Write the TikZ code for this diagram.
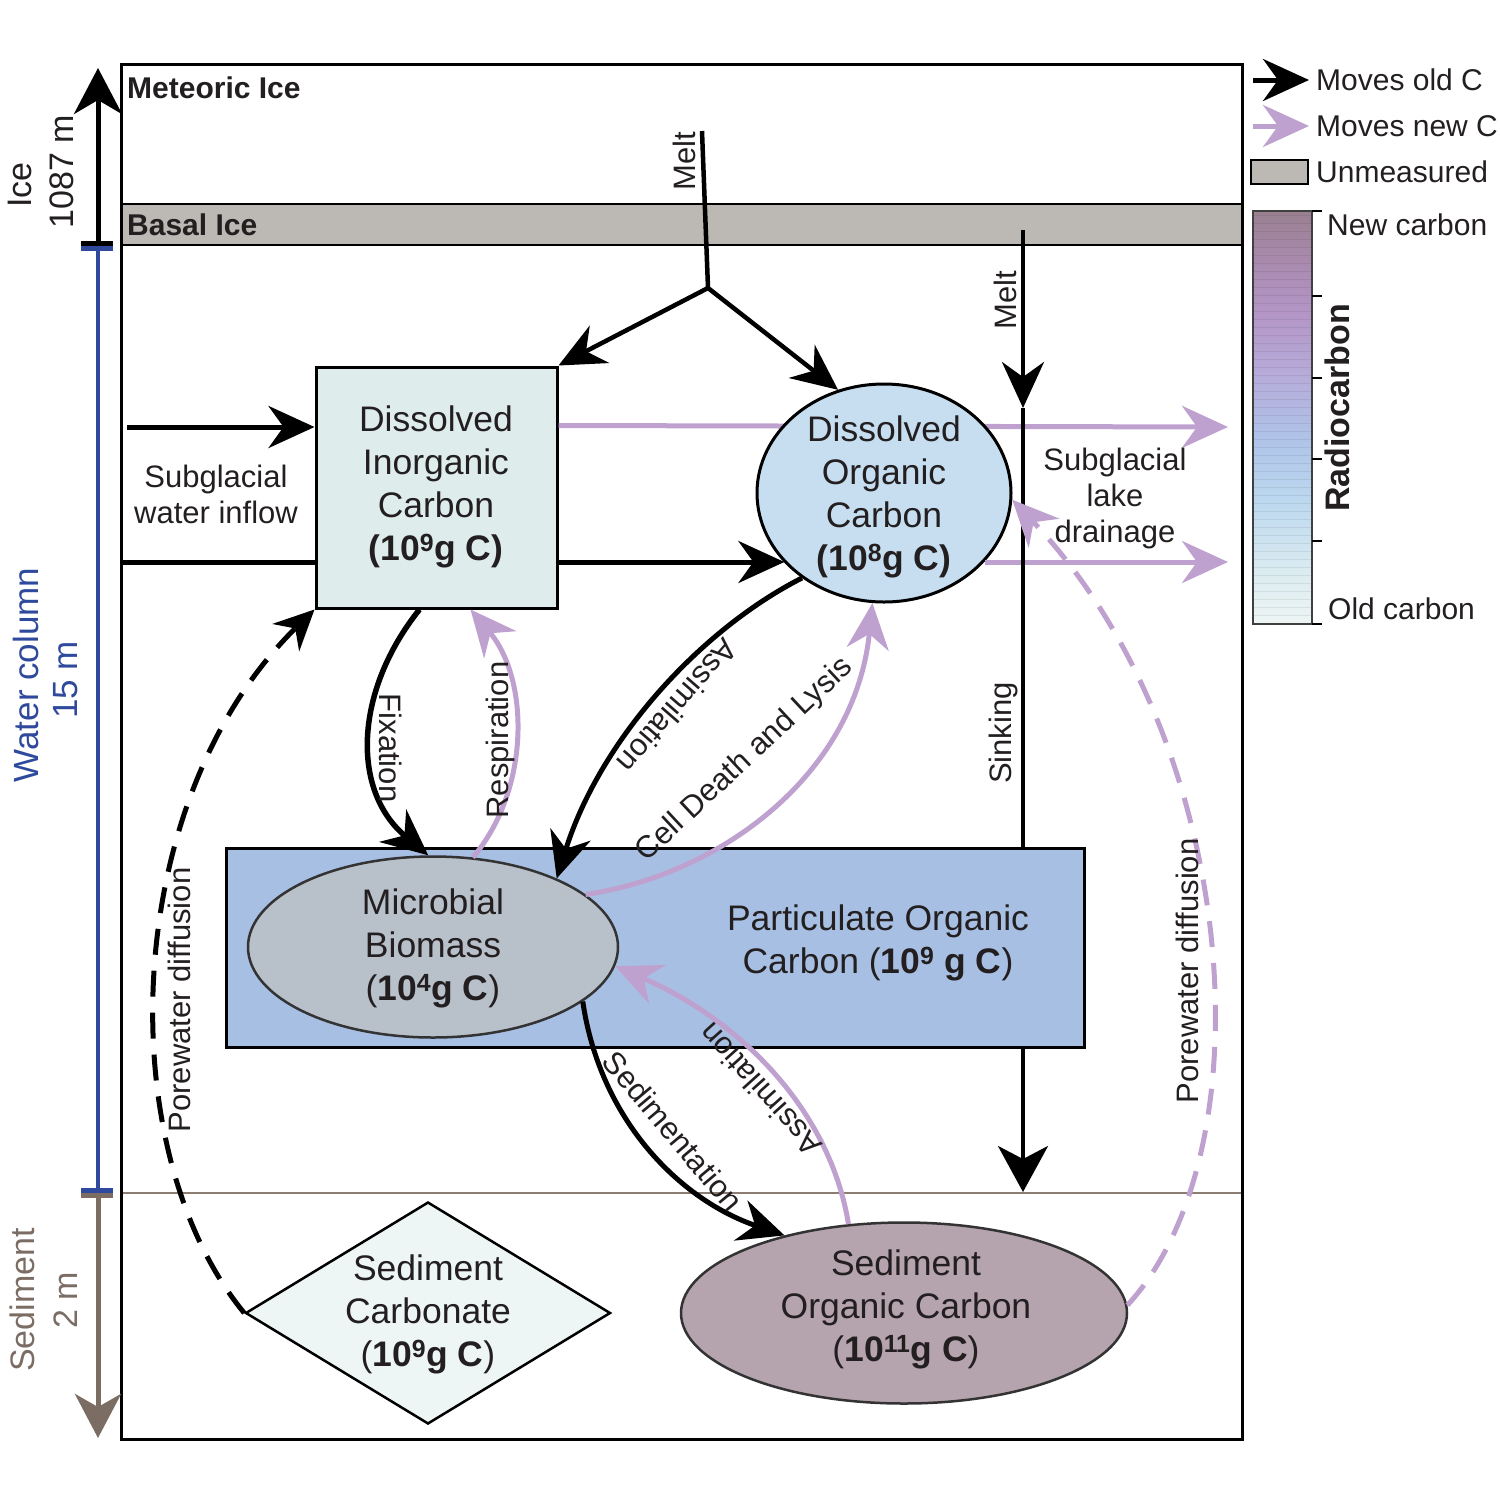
\documentclass[tikz,border=0pt]{standalone}
\usepackage{fontspec}
\setmainfont{Liberation Sans}
\usetikzlibrary{arrows.meta,shapes.geometric,calc}
\definecolor{txt}{HTML}{231F20}
\definecolor{newc}{HTML}{BFA1CF}
\definecolor{basal}{HTML}{BCB8B4}
\definecolor{dicf}{HTML}{DEECEC}
\definecolor{docf}{HTML}{C6DEF0}
\definecolor{pocf}{HTML}{A7BFE3}
\definecolor{mbf}{HTML}{B8C0CA}
\definecolor{scf}{HTML}{EEF6F5}
\definecolor{socf}{HTML}{B5A3AD}
\definecolor{scalebl}{HTML}{2F4A9C}
\definecolor{scalebr}{HTML}{7C6D64}
\definecolor{sedl}{HTML}{8C7D73}
\definecolor{rc0}{HTML}{EEF5F4}
\definecolor{rc1}{HTML}{DCECF1}
\definecolor{rc2}{HTML}{BCD8EF}
\definecolor{rc3}{HTML}{AFC3E8}
\definecolor{rc4}{HTML}{B6ACDA}
\definecolor{rc5}{HTML}{B496C7}
\definecolor{rc6}{HTML}{A98AAE}
\definecolor{rc7}{HTML}{9A8090}
\pgfdeclareverticalshading{radio}{100bp}{color(0bp)=(rc0); color(25bp)=(rc0); color(31bp)=(rc1); color(40bp)=(rc2); color(47.5bp)=(rc3); color(55bp)=(rc4); color(62.5bp)=(rc5); color(69bp)=(rc6); color(75bp)=(rc7); color(100bp)=(rc7)}
\begin{document}
\begin{tikzpicture}[x=1pt,y=-1pt,
  every node/.style={text=txt, inner sep=0pt},
  ar/.style={-{Stealth[length=46pt,width=42pt,inset=15pt]}},
  blk/.style={line width=5pt, draw=black},
  prp/.style={line width=5pt, draw=newc},
  nf/.style={font=\fontsize{35.5}{43}\selectfont, align=center},
  lf/.style={font=\fontsize{31}{36}\selectfont, align=center},
  gf/.style={font=\fontsize{30}{36}\selectfont},
  dsh/.style={dash pattern=on 26pt off 16pt}
]
\useasboundingbox (0,0) rectangle (1500,1500);

% ---- layers of ice / sediment
\fill[basal] (121,204) rectangle (1242,245);
\draw[line width=2.5pt] (121,204) -- (1242,204) (121,245) -- (1242,245);
\draw[sedl, line width=2.5pt] (121,1193) -- (1242,1193);
\draw[line width=3pt] (121,64) rectangle (1242,1439);
\node[anchor=west, font=\fontsize{30}{36}\selectfont\bfseries] (met) at (127,88) {Meteoric Ice};
\node[anchor=west, font=\fontsize{30}{36}\selectfont\bfseries] (bas) at (127,225) {Basal Ice};

% ---- left scale
\draw[line width=5pt, -{Stealth[length=46pt,width=48pt,inset=14pt]}] (98,242) -- (98,68);
\draw[line width=5pt] (81,243.5) -- (113,243.5);
\draw[line width=5pt, scalebl] (81,248.5) -- (113,248.5);
\draw[line width=4.5pt, scalebl] (98,250) -- (98,1190);
\draw[line width=5pt, scalebl] (81,1190) -- (113,1190);
\draw[line width=5pt, scalebr] (81,1195) -- (113,1195);
\draw[line width=5pt, scalebr, -{Stealth[length=44pt,width=46pt,inset=13pt]}] (98,1196) -- (98,1438);
\node[rotate=90, font=\fontsize{34}{40}\selectfont] (ice) at (20,185) {Ice};
\node[rotate=90, font=\fontsize{34}{40}\selectfont] (icem) at (62,172) {1087 m};
\node[rotate=90, font=\fontsize{35}{40}\selectfont, text=scalebl] (wc) at (26,675) {Water column};
\node[rotate=90, font=\fontsize{35}{40}\selectfont, text=scalebl] (wcm) at (66,680) {15 m};
\node[rotate=90, font=\fontsize{34}{40}\selectfont, text=scalebr] (sed) at (22,1300) {Sediment};
\node[rotate=90, font=\fontsize{34}{40}\selectfont, text=scalebr] (sedm) at (66,1300) {2 m};

% ---- nodes
\node[draw=black, line width=3pt, fill=dicf, minimum width=241pt, minimum height=241pt] (dic) at (436.5,487.5) {};
\node[nf] (dict) at (436,487) {Dissolved\\Inorganic\\Carbon\\\textbf{(10\textsuperscript{9}g C)}};

\coordinate (o1) at (1228,427);
\draw[prp, ar] ($(dic.north east)+(0,60)$) -- (o1);

\node[ellipse, draw=black, line width=3pt, fill=docf, minimum width=254pt, minimum height=218pt] (doc) at (884,493) {};
\node[nf] (doct) at (884,497) {Dissolved\\Organic\\Carbon\\\textbf{(10\textsuperscript{8}g C)}};

\node[draw=black, line width=3pt, fill=pocf, minimum width=858pt, minimum height=199pt] (poc) at (655,947.5) {};
\node[nf] (poct) at (878,943) {Particulate Organic\\Carbon (\textbf{10\textsuperscript{9} g C})};

\node[ellipse, draw=black!80, line width=2.5pt, fill=mbf, minimum width=370pt, minimum height=181pt] (mb) at (433,947) {};
\node[nf] (mbt) at (433,948) {Microbial\\Biomass\\(\textbf{10\textsuperscript{4}g C})};

\node[diamond, draw=black, line width=2.5pt, fill=scf, minimum width=365pt, minimum height=222pt] (sc) at (428,1313) {};
\node[nf] (sct) at (428,1314) {Sediment\\Carbonate\\(\textbf{10\textsuperscript{9}g C})};

\node[ellipse, draw=black!80, line width=2.5pt, fill=socf, minimum width=446pt, minimum height=181pt] (soc) at (904,1313) {};
\node[nf] (soct) at (906,1309) {Sediment\\Organic Carbon\\(\textbf{10\textsuperscript{11}g C})};

% ---- inflow / outflow
\coordinate (i1) at (127,427);
\coordinate (i2) at (121,562);
\coordinate (o2) at (1228,562);
\draw[blk, ar] (i1) -- (i1 -| dic.west);
\draw[blk] (i2) -- (i2 -| dic.west);
\draw[blk, ar] (i2 -| dic.east) -- (i2 -| doc.215);
\draw[prp, ar] (o2 -| doc.326) -- (o2);
\node[lf] (inl) at (216,494) {Subglacial\\water inflow};
\node[lf] (outl) at (1115,498) {Subglacial\\lake\\drainage};

% ---- melt
\coordinate (m1t) at (702,131);
\coordinate (m1j) at (708,288);
\draw[line width=4.5pt] (m1t) -- (m1j);
\draw[blk, line width=4.5pt, ar] (m1j) -- (dic.north east);
\draw[blk, line width=4.5pt, ar] (m1j) -- (doc.114);
\node[lf, rotate=90] (melt1) at (684,161) {Melt};

\coordinate (m2t) at (1023,230);
\coordinate (m2m) at (1023,408);
\coordinate (m2b) at (1023,1192);
\draw[blk, line width=4pt, ar] (m2t) -- (m2m);
\draw[blk, line width=4pt] (m2m) -- (m2t |- poc.north);
\draw[blk, line width=4pt, -{Stealth[length=46pt,width=50pt,inset=13pt]}] (m2t |- poc.south) -- (m2b);
\node[lf, rotate=90] (melt2) at (1005,300) {Melt};
\node[lf, rotate=90] (sink) at (1003,733) {Sinking};

% ---- biological fluxes
\draw[blk, line width=5.5pt, ar] ($(dic.south)+(-17,0)$) .. controls (355,690) and (350,790) .. (mb.93);
\node[lf, rotate=-90] (fix) at (391,748) {Fixation};
\draw[prp, ar] (mb.66) .. controls (530,790) and (530,680) .. ($(dic.south)+(34,0)$);
\node[lf, rotate=90] (resp) at (500,740) {Respiration};

\draw[blk, ar] (doc.226) .. controls (700,630) and (600,740) .. (mb.29);
\node[lf, rotate=229] (assim1) at (678,706) {Assimilation};
\draw[prp, ar] (mb.19) .. controls (720,875) and (855,775) .. (doc.264);
\node[lf, rotate=43] (cdl) at (745,760) {Cell Death and Lysis};

\draw[blk, ar] (mb.340) .. controls (600,1120) and (680,1200) .. (soc.147);
\node[lf, rotate=-50] (sedi) at (673,1131) {Sedimentation};
\draw[prp, ar] (soc.122) .. controls (830,1110) and (740,1020) .. (mb.354);
\node[lf, rotate=132] (assim2) at (760,1090) {Assimilation};

% ---- porewater diffusion
\draw[blk, dsh, -{Stealth[length=40pt,width=38pt,inset=13pt]}] (sc.west) .. controls (110,1150) and (120,800) .. (dic.south west);
\node[lf, rotate=90] (pw1) at (179,1000) {Porewater diffusion};
\draw[prp, dsh, ar] (soc.2) .. controls (1270,1150) and (1240,740) .. (doc.357);
\node[lf, rotate=90] (pw2) at (1187,971) {Porewater diffusion};

% ---- legend
\draw[blk, ar] (1253,80) -- (1309,80);
\draw[prp, ar] (1253,126) -- (1309,126);
\draw[line width=2.5pt, fill=basal] (1251,160) rectangle (1308,184);
\node[gf, anchor=west] (l1) at (1316,80) {Moves old C};
\node[gf, anchor=west] (l2) at (1316,126) {Moves new C};
\node[gf, anchor=west] (l3) at (1316,172) {Unmeasured};
\shade[shading=radio] (1253,211) rectangle (1312,624);
\foreach \yy in {215,223,...,620} \draw[black, opacity=0.07, line width=1pt] (1253,\yy) -- (1312,\yy);
\draw[line width=1.5pt, draw=black!75] (1253,211) rectangle (1312,624);
\foreach \yy in {211,296,378,459,541,624} \draw[line width=1.5pt] (1312,\yy) -- (1322,\yy);
\node[gf, anchor=west] (nc) at (1327,225) {New carbon};
\node[gf, anchor=west] (oc) at (1328,609) {Old carbon};
\node[rotate=90, font=\fontsize{34}{40}\selectfont\bfseries] (rad) at (1337,408) {Radiocarbon};
\end{tikzpicture}
\end{document}
